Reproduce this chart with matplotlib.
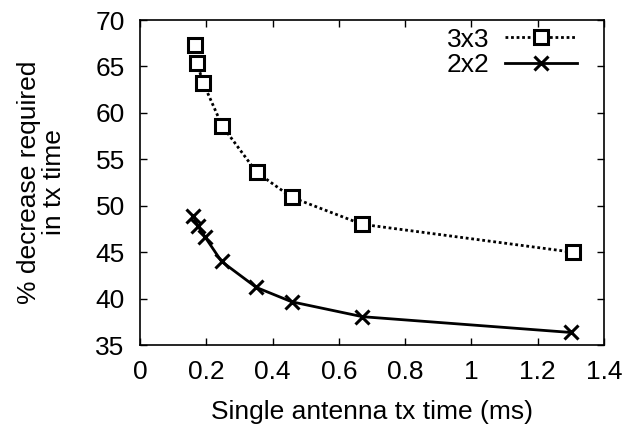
import matplotlib
matplotlib.use("Agg")
import matplotlib.pyplot as plt

plt.rcParams['font.family'] = ['Liberation Sans', 'DejaVu Sans']

x_3x3 = [0.166, 0.172, 0.191, 0.248, 0.352, 0.458, 0.670, 1.305]
y_3x3 = [67.3, 65.35, 63.2, 58.6, 53.6, 50.9, 48.0, 45.0]
x_2x2 = [0.161, 0.174, 0.196, 0.246, 0.351, 0.458, 0.671, 1.300]
y_2x2 = [48.9, 47.85, 46.65, 44.0, 41.2, 39.65, 38.05, 36.35]
labels = ["3x3", "2x2"]
xticks = [0, 0.2, 0.4, 0.6, 0.8, 1.0, 1.2, 1.4]
xticklabels = ["0", "0.2", "0.4", "0.6", "0.8", "1", "1.2", "1.4"]
yticks = [35, 40, 45, 50, 55, 60, 65, 70]

FS = 19

fig = plt.figure(figsize=(6.27, 4.24), dpi=100)
ax = fig.add_axes([140/627, 1-345/424, 464/627, 325/424])

ax.plot(x_3x3, y_3x3, linestyle=(0, (1.0, 1.0)), color='black', lw=2.0,
        marker='s', markersize=9.5, markerfacecolor='white', markeredgecolor='black',
        markeredgewidth=2.2, label=labels[0])
ax.plot(x_2x2, y_2x2, linestyle='-', color='black', lw=2.0,
        marker='x', markersize=10, markeredgewidth=2.2, label=labels[1])

ax.set_xlim(0, 1.4)
ax.set_ylim(35, 70)
ax.set_xticks(xticks)
ax.set_xticklabels(xticklabels)
ax.set_yticks(yticks)
ax.tick_params(direction='in', length=5, width=1, top=True, right=True,
               labelsize=FS)
ax.tick_params(axis='y', pad=11)
ax.tick_params(axis='x', pad=11)
for s in ax.spines.values():
    s.set_linewidth(1.2)

ax.set_xlabel("Single antenna tx time (ms)", fontsize=FS, labelpad=11)
ax.set_ylabel("% decrease required\nin tx time", fontsize=FS, labelpad=21,
              linespacing=1.05)

leg = ax.legend(loc='upper right', bbox_to_anchor=(0.975, 1.025), frameon=False,
                markerfirst=False, fontsize=FS, handlelength=2.7,
                handletextpad=0.6, labelspacing=0.05, borderaxespad=0.2)

fig.savefig("out.png", dpi=100)
